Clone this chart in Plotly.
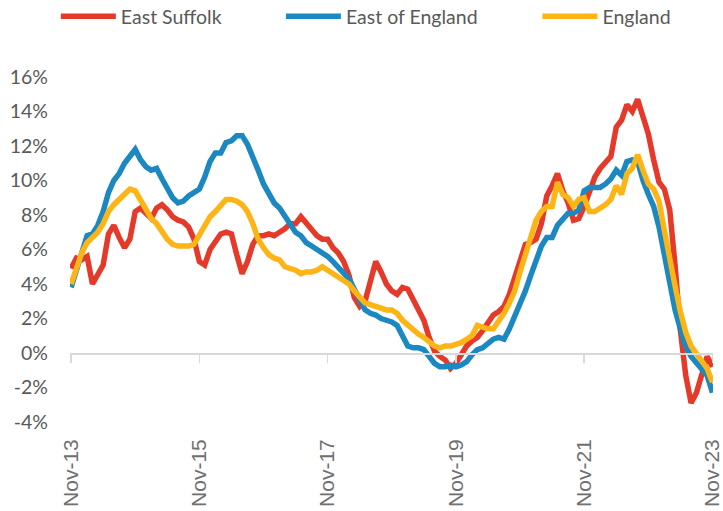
import plotly.graph_objects as go

# ---- data -------------------------------------------------------------
mon_names = ["Nov", "Dec", "Jan", "Feb", "Mar", "Apr", "May", "Jun", "Jul", "Aug", "Sep", "Oct"]
months = []
for k in range(121):
    m = k % 12
    yr = 13 + (k + 10) // 12
    months.append(f"{mon_names[m]}-{yr:02d}")

tick_labels = ["Nov-13", "Nov-15", "Nov-17", "Nov-19", "Nov-21", "Nov-23"]
y_ticks = [-4, -2, 0, 2, 4, 6, 8, 10, 12, 14, 16]

east_suffolk = [
    4.9, 5.5, 5.4, 5.6, 4.0, 4.5, 5.1, 6.9, 7.4, 6.7,
    6.1, 6.6, 8.2, 8.4, 8.1, 7.8, 8.4, 8.6, 8.3, 7.9,
    7.7, 7.6, 7.3, 6.6, 5.3, 5.1, 6.0, 6.4, 6.9, 7.0,
    6.9, 5.7, 4.6, 5.3, 6.3, 6.8, 6.8, 6.9, 6.8, 7.0,
    7.2, 7.5, 7.5, 7.9, 7.5, 7.1, 6.8, 6.6, 6.6, 6.1,
    5.8, 5.3, 4.5, 3.2, 2.7, 3.0, 4.3, 5.3, 4.7, 4.0,
    3.6, 3.4, 3.8, 3.7, 3.1, 2.5, 1.9, 0.9, 0.1, -0.2,
    -0.4, -0.9, -0.6, -0.1, 0.4, 0.7, 0.9, 1.3, 1.8, 2.2,
    2.4, 2.7, 3.4, 4.3, 5.4, 6.3, 6.4, 6.6, 7.5, 9.1,
    9.7, 10.4, 9.4, 8.7, 7.7, 7.8, 8.5, 9.4, 10.2, 10.7,
    11.1, 11.4, 13.1, 13.5, 14.4, 14.0, 14.7, 13.8, 12.7, 11.2,
    9.9, 9.5, 8.3, 5.1, 1.3, -1.3, -2.9, -2.3, -1.3, -0.2,
    -0.8,
]

east_of_england = [
    3.8, 4.8, 5.8, 6.8, 6.9, 7.4, 8.2, 9.3, 10.0, 10.4,
    11.0, 11.4, 11.8, 11.2, 10.8, 10.6, 10.7, 10.1, 9.5, 9.0,
    8.7, 8.8, 9.1, 9.3, 9.5, 10.2, 11.1, 11.6, 11.6, 12.2,
    12.3, 12.6, 12.6, 12.1, 11.4, 10.6, 9.8, 9.2, 8.7, 8.4,
    7.9, 7.4, 7.0, 6.8, 6.4, 6.2, 6.0, 5.8, 5.6, 5.3,
    5.0, 4.7, 4.3, 3.7, 3.1, 2.5, 2.3, 2.2, 2.0, 1.9,
    1.8, 1.6, 1.0, 0.4, 0.3, 0.3, 0.2, -0.2, -0.6, -0.8,
    -0.8, -0.7, -0.8, -0.7, -0.5, -0.1, 0.2, 0.3, 0.6, 0.8,
    0.9, 0.8, 1.4, 2.1, 2.8, 3.6, 4.5, 5.4, 6.2, 6.7,
    6.7, 7.4, 7.7, 8.1, 8.1, 8.3, 9.4, 9.6, 9.6, 9.6,
    9.8, 10.1, 10.6, 10.3, 11.1, 11.2, 11.1, 10.0, 9.2, 8.5,
    7.3, 5.6, 4.0, 2.5, 1.4, 0.4, -0.2, -0.6, -0.9, -1.3,
    -2.3,
]

england = [
    4.0, 4.9, 5.8, 6.4, 6.7, 7.0, 7.5, 8.2, 8.6, 8.9,
    9.2, 9.5, 9.4, 8.9, 8.3, 7.8, 7.5, 7.0, 6.6, 6.3,
    6.2, 6.2, 6.2, 6.3, 6.8, 7.3, 7.9, 8.2, 8.5, 8.9,
    8.9, 8.8, 8.6, 8.2, 7.5, 6.6, 6.1, 5.7, 5.5, 5.4,
    5.0, 4.9, 4.8, 4.6, 4.7, 4.7, 4.8, 5.0, 4.8, 4.6,
    4.4, 4.2, 4.0, 3.6, 3.3, 2.9, 2.8, 2.7, 2.6, 2.5,
    2.5, 2.3, 1.9, 1.6, 1.3, 1.1, 0.9, 0.6, 0.4, 0.3,
    0.4, 0.4, 0.5, 0.6, 0.8, 1.0, 1.6, 1.5, 1.4, 1.4,
    1.8, 2.3, 2.9, 3.6, 4.7, 5.7, 6.9, 7.7, 8.2, 8.5,
    8.5, 9.9, 9.2, 9.0, 8.5, 8.9, 9.0, 8.2, 8.2, 8.4,
    8.6, 8.9, 9.7, 9.2, 10.4, 10.7, 11.5, 10.6, 9.8, 9.5,
    8.8, 7.1, 5.3, 3.9, 2.4, 1.2, 0.4, 0.0, -0.4, -0.9,
    -1.7,
]

series_names = ["East Suffolk", "East of England", "England"]
series_values = [east_suffolk, east_of_england, england]
series_colors = ["#E5392A", "#1C88C2", "#FDB515"]

# ---- figure -----------------------------------------------------------
fig = go.Figure()
legend_ids = ["legend", "legend2", "legend3"]
for name, vals, col, lg in zip(series_names, series_values, series_colors, legend_ids):
    fig.add_trace(go.Scatter(
        x=months, y=vals, name=name, mode="lines",
        line=dict(color=col, width=5.5),
        legend=lg, hoverinfo="skip",
    ))

# helper trace for the axis drawn at y = 0
fig.add_trace(go.Scatter(x=months, y=[None] * len(months), xaxis="x2",
                         showlegend=False, hoverinfo="skip"))

legend_font = dict(family="Lato", size=19.5, color="#595959")
leg_common = dict(orientation="h", yanchor="middle", y=1.175, xanchor="left",
                  font=legend_font, itemwidth=55, bgcolor="rgba(0,0,0,0)",
                  tracegroupgap=0)

fig.update_layout(
    width=723, height=511,
    margin=dict(l=70, r=10, t=77, b=89, autoexpand=False),
    paper_bgcolor="white", plot_bgcolor="white",
    legend=dict(x=-0.022, **leg_common),
    legend2=dict(x=0.328, **leg_common),
    legend3=dict(x=0.727, **leg_common),
    xaxis=dict(
        type="category", range=[-0.2, 120.1], automargin=False,
        tickmode="array", tickvals=tick_labels, ticktext=tick_labels,
        tickangle=-90, showgrid=False, showline=False, zeroline=False,
        ticks="", ticklabelstandoff=12,
        tickfont=dict(family="Liberation Sans", size=21, color="#707070"),
    ),
    xaxis2=dict(
        type="category", overlaying="x", matches="x", anchor="free", position=0.2,
        side="bottom", showline=True, linecolor="#d9d9d9", linewidth=1.5,
        ticks="outside", ticklen=8, tickwidth=1.5, tickcolor="#d9d9d9",
        tickmode="array", tickvals=tick_labels, showticklabels=False,
        showgrid=False, zeroline=False, automargin=False,
    ),
    yaxis=dict(
        range=[-4, 16], tickmode="array", tickvals=y_ticks, automargin=False,
        ticktext=[f"{v}%" for v in y_ticks],
        showgrid=False, zeroline=False, showline=False, ticks="",
        ticklabelstandoff=21,
        tickfont=dict(family="Lato", size=19.5, color="#595959"),
    ),
    showlegend=True,
)

fig.write_html(
    "out.html",
    config={"displayModeBar": False, "staticPlot": True},
    post_script="document.body.style.margin='0px';document.body.style.overflow='hidden';",
)
